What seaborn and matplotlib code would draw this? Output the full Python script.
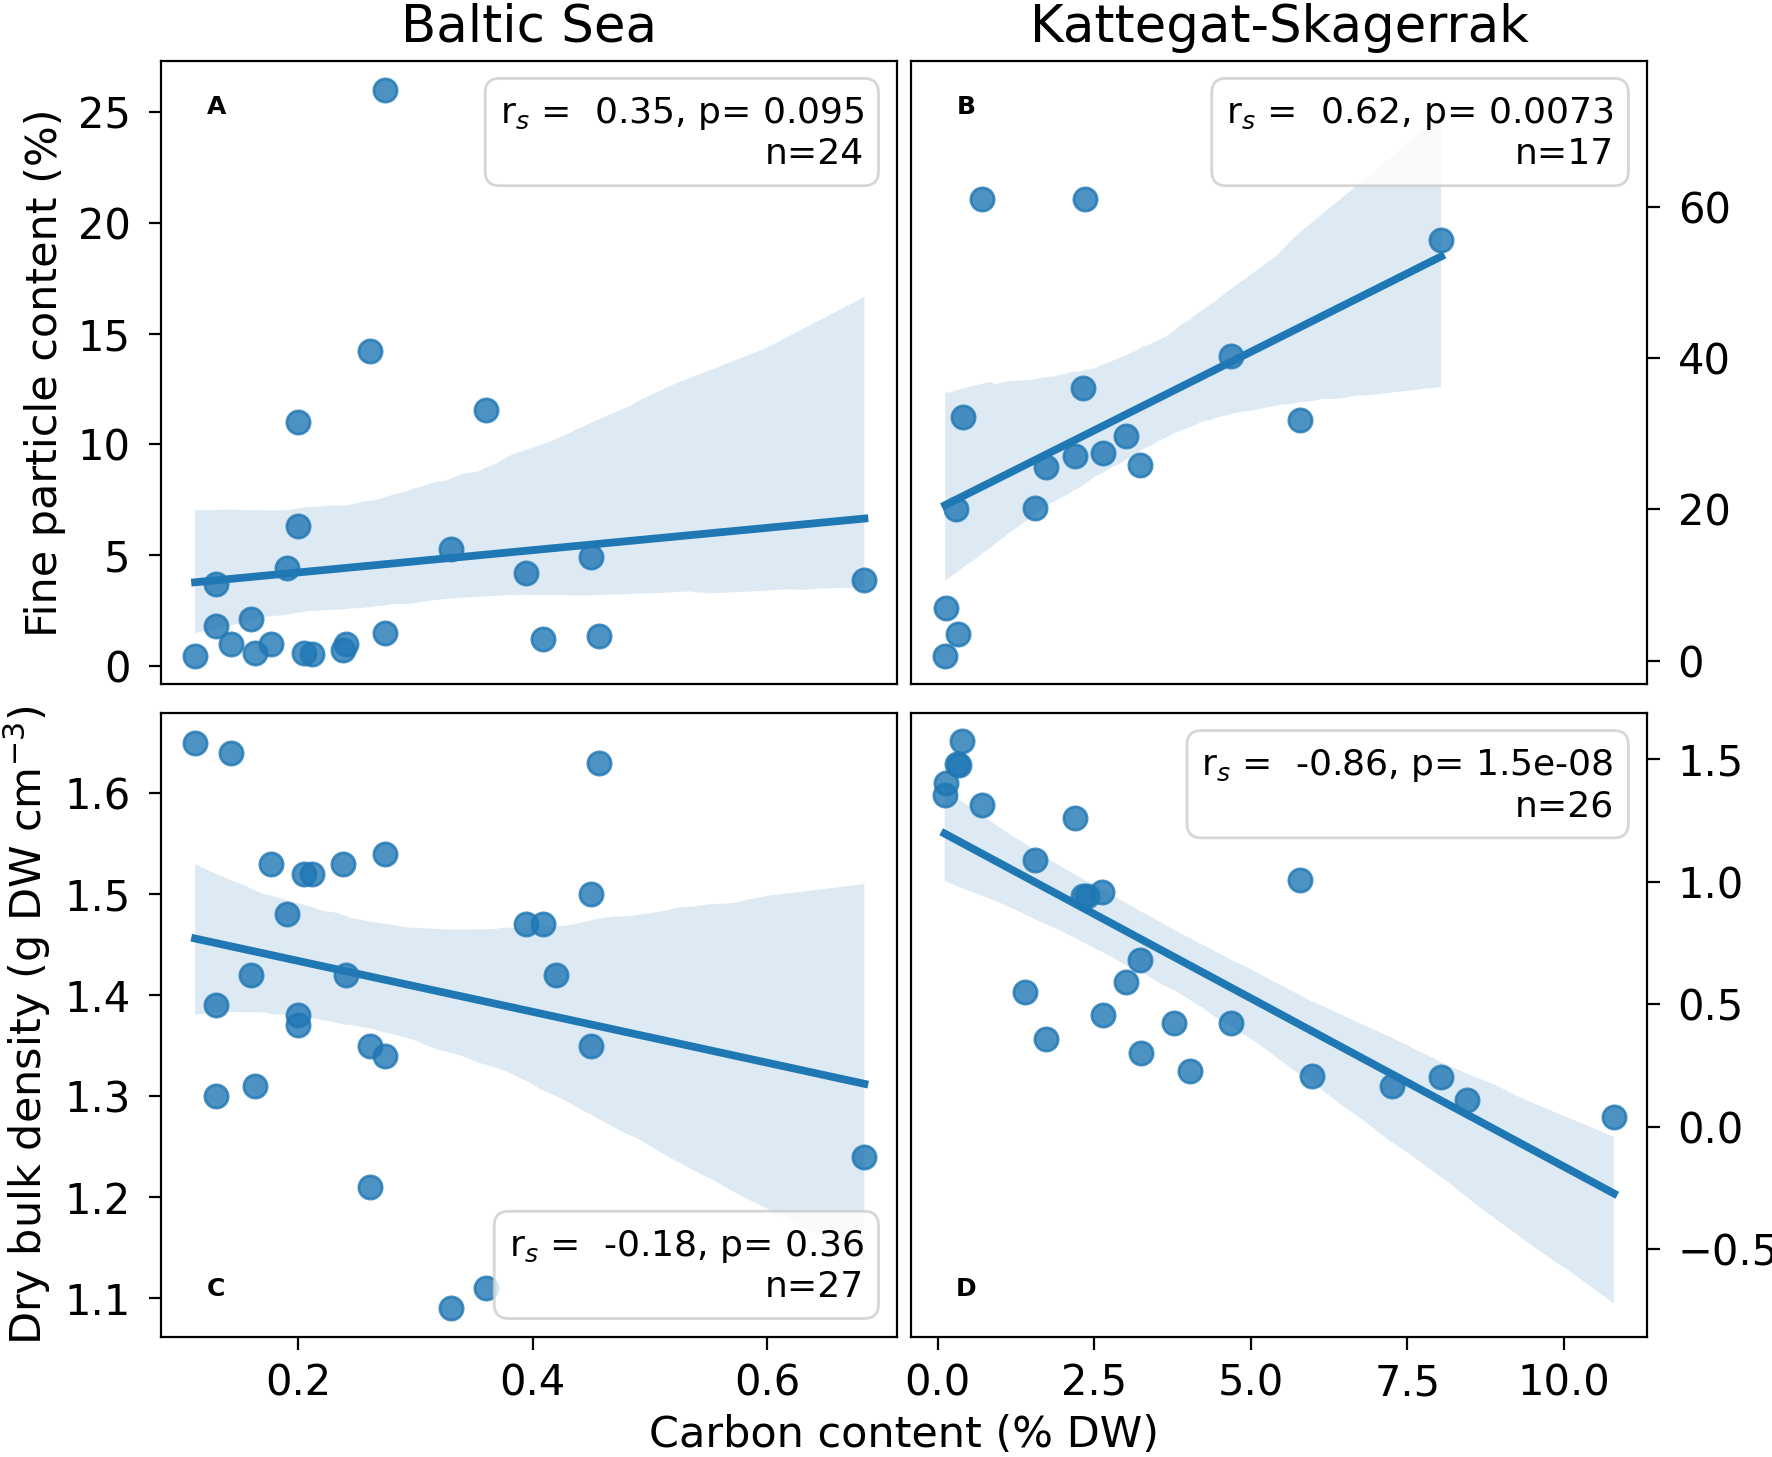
import matplotlib
matplotlib.use("Agg")
import matplotlib.pyplot as plt
import seaborn as sns

# Panel A - Baltic Sea, fine particle content vs carbon content
baltic_fine_c = [0.274, 0.261, 0.200, 0.360, 0.200, 0.330, 0.190, 0.450, 0.394, 0.683,
                 0.130, 0.130, 0.160, 0.274, 0.143, 0.177, 0.163, 0.112, 0.205, 0.212,
                 0.241, 0.238, 0.409, 0.457]
baltic_fine = [26.0, 14.2, 11.0, 11.55, 6.3, 5.3, 4.4, 4.9, 4.2, 3.9,
               3.7, 1.8, 2.1, 1.5, 1.0, 1.0, 0.6, 0.45, 0.6, 0.55,
               1.0, 0.7, 1.2, 1.35]

# Panel B - Kattegat-Skagerrak, fine particle content
katt_fine_c = [0.71, 2.36, 8.04, 4.68, 2.32, 0.40, 5.78, 3.01, 2.64, 2.19,
               1.73, 3.23, 0.29, 1.56, 0.13, 0.32, 0.12]
katt_fine = [61.0, 61.0, 55.6, 40.3, 36.0, 32.2, 31.8, 29.7, 27.5, 27.0,
             25.6, 25.9, 20.0, 20.2, 7.0, 3.6, 0.7]

# Panel C - Baltic Sea, dry bulk density
baltic_dbd_c = [0.112, 0.143, 0.457, 0.177, 0.205, 0.212, 0.238, 0.274, 0.190, 0.450,
                0.394, 0.409, 0.160, 0.241, 0.420, 0.130, 0.200, 0.200, 0.261, 0.274,
                0.450, 0.130, 0.163, 0.683, 0.261, 0.330, 0.360]
baltic_dbd = [1.65, 1.64, 1.63, 1.53, 1.52, 1.52, 1.53, 1.54, 1.48, 1.50,
              1.47, 1.47, 1.42, 1.42, 1.42, 1.39, 1.38, 1.37, 1.35, 1.34,
              1.35, 1.30, 1.31, 1.24, 1.21, 1.09, 1.11]

# Panel D - Kattegat-Skagerrak, dry bulk density
katt_dbd_c = [0.39, 0.31, 0.34, 0.13, 0.11, 0.70, 2.19, 1.56, 5.78, 2.32,
              2.39, 2.63, 3.23, 3.01, 1.39, 2.64, 3.78, 4.68, 1.73, 3.25,
              4.03, 5.98, 7.26, 8.04, 8.45, 10.80]
katt_dbd = [1.574, 1.48, 1.475, 1.402, 1.354, 1.313, 1.26, 1.09, 1.009, 0.942,
            0.942, 0.958, 0.679, 0.59, 0.551, 0.458, 0.423, 0.423, 0.359, 0.30,
            0.229, 0.209, 0.168, 0.203, 0.111, 0.039]

stats_text = [
    "r$_s$ =  0.35, p= 0.095\nn=24",
    "r$_s$ =  0.62, p= 0.0073\nn=17",
    "r$_s$ =  -0.18, p= 0.36\nn=27",
    "r$_s$ =  -0.86, p= 1.5e-08\nn=26",
]
panel_letters = ["A", "B", "C", "D"]
column_titles = ["Baltic Sea", "Kattegat-Skagerrak"]

fig = plt.figure(figsize=(8.86, 7.285), dpi=200)
gs = fig.add_gridspec(2, 2, left=0.0909, right=0.9295, top=0.958, bottom=0.0827,
                      wspace=0.0186, hspace=0.0466)
ax_a = fig.add_subplot(gs[0, 0])
ax_b = fig.add_subplot(gs[0, 1])
ax_c = fig.add_subplot(gs[1, 0], sharex=ax_a)
ax_d = fig.add_subplot(gs[1, 1], sharex=ax_b)
axes = [ax_a, ax_b, ax_c, ax_d]

data = [(baltic_fine_c, baltic_fine), (katt_fine_c, katt_fine),
        (baltic_dbd_c, baltic_dbd), (katt_dbd_c, katt_dbd)]

for ax, (x, y) in zip(axes, data):
    sns.regplot(x=x, y=y, ax=ax, color="C0", seed=3,
                scatter_kws={"s": 70, "alpha": 0.8},
                line_kws={"lw": 2.8})
    ax.tick_params(axis="y", labelsize=15, pad=6.5, length=4.5)
    ax.tick_params(axis="x", labelsize=15, pad=5, length=4.5)

ax_a.set_ylim(-0.83, 27.3)
ax_b.set_ylim(-3.1, 79.2)
ax_c.set_ylim(1.062, 1.679)
ax_d.set_ylim(-0.855, 1.687)
ax_a.set_xlim(0.083, 0.711)
ax_b.set_xlim(-0.428, 11.33)

for ax in (ax_b, ax_d):
    ax.yaxis.tick_right()
for ax in (ax_a, ax_b):
    ax.tick_params(axis="x", bottom=False, labelbottom=False)

for ax, title in zip((ax_a, ax_b), column_titles):
    ax.set_title(title, fontsize=18.5, pad=7)

ax_a.set_ylabel("Fine particle content (%)", fontsize=15.5, labelpad=4)
ax_c.set_ylabel("Dry bulk density (g DW cm$^{-3}$)", fontsize=15.5, labelpad=4)
fig.text(0.51, 0.015, "Carbon content (% DW)", ha="center", va="center", fontsize=15.5)

box = dict(boxstyle="round,pad=0.4", fc="white", ec="0.8", alpha=0.8)
for i, ax in enumerate(axes):
    ax.text(0.075, 0.926 if i < 2 else 0.076, panel_letters[i], transform=ax.transAxes,
            ha="center", va="center", fontsize=9, fontweight="bold")
    if i == 2:
        ax.text(0.955, 0.052, stats_text[i], transform=ax.transAxes, ha="right",
                va="bottom", multialignment="right", fontsize=13, bbox=box)
    else:
        ax.text(0.955, 0.946, stats_text[i], transform=ax.transAxes, ha="right",
                va="top", multialignment="right", fontsize=13, bbox=box)

fig.savefig("out.png", dpi=200)
